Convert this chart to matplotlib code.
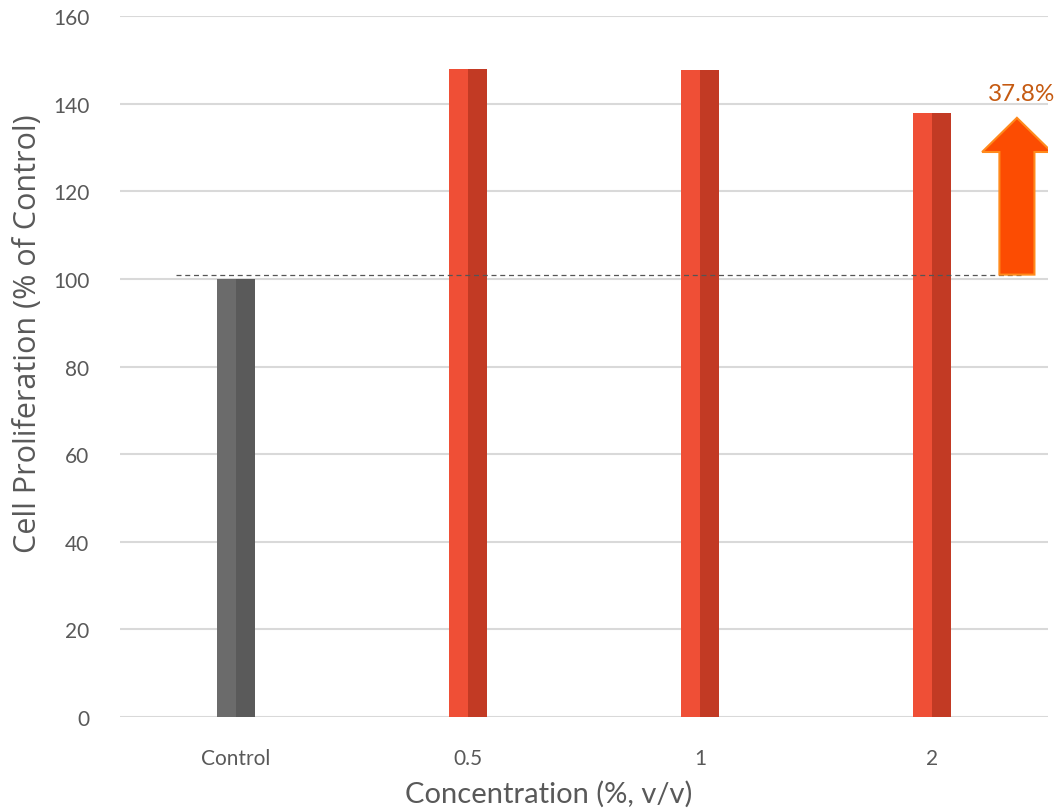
import matplotlib.pyplot as plt
from matplotlib.patches import FancyArrow

categories = ['Control', '0.5', '1', '2']
values = [100, 148, 147.7, 137.8]
left_colors = ['#6b6b6b', '#ef4f36', '#ef4f36', '#ef4f36']
right_colors = ['#5a5a5a', '#c23a24', '#c23a24', '#c23a24']
ref_level = 101
increase_label = '37.8%'

plt.rcParams['font.family'] = ['Lato', 'DejaVu Sans']

fig = plt.figure(figsize=(10.57, 8.12), dpi=100)
ax = fig.add_axes([0.1135, 0.1158, 0.878, 0.863])

w = 0.164
x = range(len(categories))
for i in x:
    ax.bar(i - w / 4, values[i], width=w / 2, color=left_colors[i], zorder=3)
    ax.bar(i + w / 4, values[i], width=w / 2, color=right_colors[i], zorder=3)

# dashed reference line at control level
ax.plot([-0.26, 3.39], [ref_level, ref_level], ls=(0, (4, 3)), color='#555555', lw=0.9, zorder=4)

# up arrow showing the increase
arr = FancyArrow(3.366, ref_level, 0, 136.8 - ref_level, width=0.151, head_width=0.30,
                 head_length=7.8, length_includes_head=True,
                 facecolor='#fc4c02', edgecolor='#ff8a1c', lw=1.5, zorder=5)
ax.add_patch(arr)
ax.text(3.385, 142.3, increase_label, ha='center', va='center', fontsize=17.5,
        color='#c55a11', clip_on=False, zorder=6)

ax.set_xlim(-0.5, 3.5)
ax.set_ylim(0, 160)
ax.set_yticks(range(0, 161, 20))
ax.set_xticks(list(x))
ax.set_xticklabels(categories)
ax.yaxis.grid(True, color='#d9d9d9', lw=1.5, zorder=0)
ax.set_axisbelow(True)
for s in ax.spines.values():
    s.set_visible(False)
ax.tick_params(axis='both', length=0, labelsize=15, colors='#595959')
ax.tick_params(axis='x', pad=22)
ax.tick_params(axis='y', pad=22)

ax.set_xlabel('Concentration (%, v/v)', fontsize=21, color='#595959')
ax.set_ylabel('Cell Proliferation (% of Control)', fontsize=22,
              family=['Open Sans', 'DejaVu Sans'], color='#595959')
ax.xaxis.set_label_coords(0.462, -0.09)
ax.yaxis.set_label_coords(-0.083, 0.549)

fig.savefig('out.png', dpi=100)
